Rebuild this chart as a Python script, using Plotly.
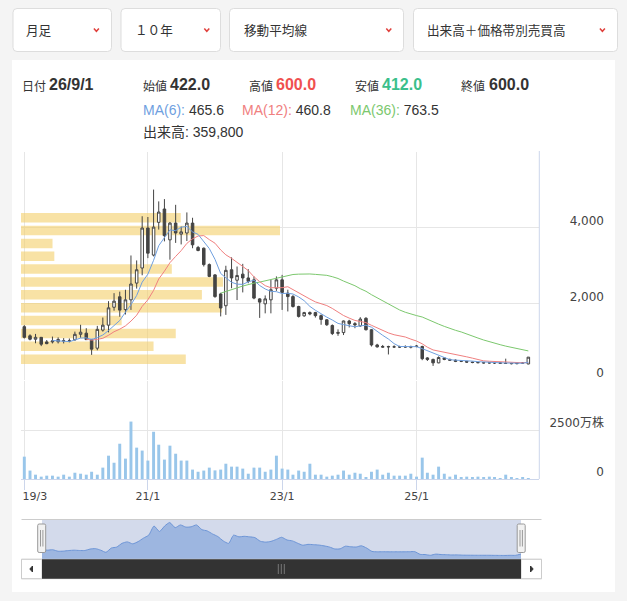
import plotly.graph_objects as go
import pandas as pd

# ---------------- data ----------------
dates = pd.date_range('2019-03-01', periods=91, freq='MS')

opens = [1400, 1160, 1070, 1120, 1000, 1000, 1005, 1025, 1020, 1055,
         1200, 1230, 1070, 835, 1310, 1440, 1910, 2185, 1850, 2105,
         2545, 2940, 3990, 3280, 4140, 4490, 3680, 4120, 3830, 3860,
         4120, 3480, 3460, 3030, 2760, 2260, 1950, 2895, 2620, 2780,
         2680, 2630, 2130, 2000, 2105, 2410, 2630, 2280, 2190, 1930,
         1685, 1770, 1770, 1690, 1580, 1430, 1250, 1245, 1550, 1480,
         1420, 1620, 1320, 920, 860, 880, 870, 865, 870, 860,
         880, 880, 580, 540, 450, 580, 540, 520, 490, 490,
         470, 460, 455, 450, 451, 450, 440, 433.6, 430, 445,
         422]
highs = [1440, 1200, 1210, 1130, 1050, 1140, 1120, 1100, 1090, 1270,
         1450, 1360, 1075, 1420, 1640, 2070, 2280, 2320, 2370, 3270,
         3140, 4300, 4280, 5000, 4690, 4750, 4150, 4600, 4030, 4400,
         4260, 3520, 3480, 3060, 2780, 2290, 3000, 3220, 2980, 3050,
         2910, 2720, 2150, 2220, 2630, 2720, 2760, 2370, 2230, 1950,
         1790, 1800, 1790, 1720, 1600, 1460, 1330, 1560, 1580, 1520,
         1650, 1650, 1340, 950, 920, 900, 910, 900, 910, 900,
         920, 900, 600, 560, 620, 600, 560, 540, 510, 500,
         480, 470, 470, 470, 460, 460, 560, 450, 460, 460,
         600]
lows = [1090, 1040, 965, 890, 940, 960, 960, 960, 990, 1030,
        1110, 1050, 660, 780, 1270, 1250, 1820, 1660, 1720, 1840,
        2400, 2750, 3200, 3245, 3950, 3640, 3160, 3600, 3560, 3650,
        3460, 3380, 2980, 2700, 2160, 1670, 1710, 2410, 2100, 2300,
        2540, 2120, 1630, 1750, 1750, 2340, 1840, 1800, 1900, 1640,
        1660, 1700, 1640, 1450, 1420, 1180, 1160, 1180, 1380, 1360,
        1400, 1300, 880, 850, 840, 670, 840, 840, 850, 830,
        860, 520, 500, 370, 440, 520, 500, 470, 470, 450,
        440, 440, 430, 430, 420, 420, 420, 410, 410, 420,
        412]
closes = [1120, 1070, 1120, 940, 955, 1025, 1065, 1030, 1030, 1200,
          1255, 1060, 810, 1330, 1440, 1895, 2070, 1835, 2105, 2520,
          2895, 3990, 3330, 4015, 4410, 3790, 4120, 3860, 3890, 4120,
          3550, 3400, 3030, 2720, 2190, 1890, 2880, 2680, 2745, 2680,
          2590, 2150, 2045, 2130, 2370, 2630, 2300, 2190, 1930, 1670,
          1770, 1735, 1690, 1590, 1450, 1220, 1230, 1550, 1480, 1450,
          1600, 1320, 920, 870, 880, 870, 870, 870, 870, 880,
          890, 560, 540, 450, 590, 540, 520, 490, 496.4, 470,
          460, 455, 450, 451, 450, 440, 433.6, 430, 445, 445,
          600]
# monthly volume, in units of 10,000 shares (万株)
volume_man = [1140, 430, 220, 120, 170, 170, 120, 220, 120, 320,
              270, 220, 370, 220, 580, 1190, 830, 1800, 1040, 2930,
              1600, 1450, 940, 2410, 1750, 990, 1700, 1290, 940, 940,
              480, 370, 430, 580, 440, 480, 780, 630, 630, 530,
              270, 580, 580, 370, 480, 1190, 530, 480, 220, 430,
              370, 780, 220, 220, 120, 170, 220, 430, 220, 320,
              270, 70, 370, 480, 220, 320, 170, 170, 170, 270,
              120, 1090, 320, 220, 630, 270, 120, 220, 70, 120,
              70, 120, 70, 120, 70, 30, 220, 70, 20, 70,
              35.98]
# volume-by-price bands (band centre price, band volume in 万株)
vbp_price = [547, 885, 1223, 1560, 1898, 2236, 2574, 2912, 3250, 3587, 3925, 4263]
vbp_volume = [4600, 3700, 4320, 2810, 5610, 5050, 5640, 4210, 930, 880, 7230, 4460]

tick_dates = ['2019-03-01', '2021-01-01', '2023-01-01', '2025-01-01']
tick_labels = ['\u2007\u2007\u200719/3', '21/1', '23/1', '25/1']

# ---------------- helpers ----------------
W, H = 627, 601
def X(p): return p / W
def Y(p): return 1 - p / H

volume = [round(v * 1e4) for v in volume_man]
cs = pd.Series(closes)
ma6 = cs.rolling(6).mean()
ma12 = cs.rolling(12).mean()
ma36 = cs.rolling(36).mean()

C_MA6, C_MA12, C_MA36 = '#6f9fdf', '#f08080', '#7cc86e'
GRID = '#e6e6e6'
AX = '#ccd6eb'
NOSLIDER = dict(visible=False)

fig = go.Figure()

# volume-by-price bars (base subplot so they sit beneath the candles)
fig.add_trace(go.Bar(x=vbp_volume, y=vbp_price, orientation='h', width=250,
                     marker=dict(color='rgba(243,206,105,0.6)', line=dict(width=0)),
                     xaxis='x', yaxis='y', hoverinfo='skip'))
# candles
fig.add_trace(go.Candlestick(x=dates, open=opens, high=highs, low=lows, close=closes,
                             xaxis='x5', yaxis='y', whiskerwidth=0,
                             increasing=dict(line=dict(color='#444444', width=1), fillcolor='#ffffff'),
                             decreasing=dict(line=dict(color='#444444', width=1), fillcolor='#444444'),
                             hoverinfo='skip'))
for s, c in [(ma36, C_MA36), (ma12, C_MA12), (ma6, C_MA6)]:
    fig.add_trace(go.Scatter(x=dates, y=s, mode='lines', line=dict(color=c, width=1),
                             xaxis='x5', yaxis='y', hoverinfo='skip'))
# volume
fig.add_trace(go.Bar(x=dates, y=volume, width=16 * 86400000,
                     marker=dict(color='#99c6ea', line=dict(width=0)),
                     xaxis='x2', yaxis='y2', hoverinfo='skip'))
# navigator
fig.add_trace(go.Scatter(x=dates, y=closes, mode='lines', fill='tozeroy',
                         fillcolor='#9db6e0', line=dict(color='#6d95d6', width=1, shape='spline', smoothing=0.6),
                         xaxis='x4', yaxis='y4', hoverinfo='skip'))

xr = ['2019-02-11', '2026-10-29']
tickfont_y = dict(family='DejaVu Sans', size=12, color='#444444')

fig.update_layout(
    width=W, height=H, margin=dict(l=0, r=0, t=0, b=0, pad=0, autoexpand=False),
    paper_bgcolor='#f4f4f4', plot_bgcolor='rgba(0,0,0,0)',
    showlegend=False, hovermode=False, barmode='overlay',
    xaxis=dict(domain=[X(21), X(539)], range=[0, max(vbp_volume) * 2], visible=False,
               anchor='y', fixedrange=True, automargin=False, rangeslider=NOSLIDER),
    xaxis5=dict(overlaying='x', type='date', range=xr, anchor='y', tickvals=tick_dates,
                showticklabels=False, showgrid=True, gridcolor=GRID, gridwidth=1,
                zeroline=False, showline=False, ticks='', automargin=False, rangeslider=NOSLIDER),
    yaxis=dict(domain=[Y(380), Y(151.5)], range=[0, 6000], tickvals=[0, 2000, 4000, 6000],
               ticktext=['0', '2,000', '4,000', ''], gridcolor=GRID, zeroline=False,
               showline=False, ticks='', anchor='free', position=X(604), side='left',
               ticklabelshift=-7, tickfont=tickfont_y, automargin=False),
    xaxis2=dict(domain=[X(21), X(539)], type='date', range=xr, anchor='y2',
                tickvals=tick_dates, ticktext=tick_labels, showgrid=True, gridcolor=GRID,
                showline=True, linecolor=AX, linewidth=1, ticks='outside', ticklen=10,
                tickcolor=AX, tickwidth=1, zeroline=False, ticklabelstandoff=-3,
                tickfont=dict(family='DejaVu Sans', size=11, color='#444444'),
                automargin=False, rangeslider=NOSLIDER),
    yaxis2=dict(domain=[Y(479), Y(381)], range=[0, 5e7], tickvals=[0, 2.5e7, 5e7],
                ticktext=['0', '2500万株', ''], gridcolor=GRID, zeroline=False,
                showline=False, ticks='', anchor='free', position=X(604), side='left',
                ticklabelshift=-7, automargin=False,
                tickfont=dict(family='DejaVu Sans, Noto Sans CJK JP', size=12, color='#444444')),
    xaxis4=dict(domain=[X(42), X(521)], type='date',
                range=[str(dates[0].date()), str(dates[-1].date())], anchor='y4', visible=False,
                automargin=False, rangeslider=NOSLIDER),
    yaxis4=dict(domain=[Y(559), Y(519.5)], range=[0, 4780], anchor='x4', visible=False,
                automargin=False),
)

# ---------------- decorations ----------------
shapes = []
def rect(x0, y0, x1, y1, fill, line=None, lw=1, layer='below'):
    shapes.append(dict(type='rect', xref='paper', yref='paper', x0=X(x0), x1=X(x1),
                       y0=Y(y1), y1=Y(y0), fillcolor=fill, layer=layer,
                       line=dict(color=line or fill, width=lw if line else 0)))
def seg(x0, y0, x1, y1, color, lw=1, layer='above'):
    shapes.append(dict(type='line', xref='paper', yref='paper', x0=X(x0), x1=X(x1),
                       y0=Y(y0), y1=Y(y1), layer=layer, line=dict(color=color, width=lw)))
def rrect(x0, y0, x1, y1, r, fill, line, lw=1, layer='below'):
    p = (f"M {X(x0+r)},{Y(y0)} L {X(x1-r)},{Y(y0)} Q {X(x1)},{Y(y0)} {X(x1)},{Y(y0+r)} "
         f"L {X(x1)},{Y(y1-r)} Q {X(x1)},{Y(y1)} {X(x1-r)},{Y(y1)} L {X(x0+r)},{Y(y1)} "
         f"Q {X(x0)},{Y(y1)} {X(x0)},{Y(y1-r)} L {X(x0)},{Y(y0+r)} Q {X(x0)},{Y(y0)} {X(x0+r)},{Y(y0)} Z")
    shapes.append(dict(type='path', xref='paper', yref='paper', path=p, fillcolor=fill,
                       layer=layer, line=dict(color=line, width=lw)))
def poly(pts, color, fill=None, lw=1.5, layer='above'):
    p = 'M ' + ' L '.join(f"{X(a)},{Y(b)}" for a, b in pts)
    if fill:
        p += ' Z'
    shapes.append(dict(type='path', xref='paper', yref='paper', path=p, layer=layer,
                       fillcolor=fill if fill else 'rgba(0,0,0,0)', line=dict(color=color, width=lw)))

# white chart panel
rect(12, 60, 615, 592, '#ffffff')
# dropdown boxes
boxes = [(13, 111.5), (121, 220.5), (229.5, 403.5), (413.5, 617.5)]
chev = [96.4, 206.8, 388.8, 602.4]
for (a, b), c in zip(boxes, chev):
    rrect(a, 8.5, b, 51.5, 4, '#ffffff', '#dddddd')
    poly([(c - 2.5, 28.5), (c, 31.3), (c + 2.5, 28.5)], '#e0403c', lw=1.5)
# plot borders
seg(539.3, 151, 539.3, 479, AX)
# navigator
rect(42, 519.5, 521, 559, '#d3daeb')
seg(21.5, 519.5, 541.5, 519.5, '#cccccc')
for hc in [41.7, 521.2]:
    rrect(hc - 4, 524, hc + 4, 552.5, 1.5, '#f2f2f2', '#999999', layer='above')
    seg(hc - 1.2, 530, hc - 1.2, 546.5, '#999999')
    seg(hc + 1.2, 530, hc + 1.2, 546.5, '#999999')
# scrollbar
rect(21.5, 559.3, 541.5, 578.7, '#f2f2f2', '#cccccc', layer='above')
rect(21.5, 559.3, 42, 578.7, '#ffffff', '#cccccc', layer='above')
rect(521, 559.3, 541.5, 578.7, '#ffffff', '#cccccc', layer='above')
rect(42, 559.3, 521, 578.7, '#333333', layer='above')
for rx in [278.3, 281.3, 284.3]:
    seg(rx, 564, rx, 574, '#777777')
poly([(32.5, 566), (32.5, 572), (29.8, 569)], '#333333', fill='#333333', lw=1)
poly([(530.5, 566), (530.5, 572), (533.2, 569)], '#333333', fill='#333333', lw=1)
fig.update_layout(shapes=shapes)

# ---------------- text ----------------
ann = []
def txt(x, y, s, size=12, color='#333333', family='Liberation Sans, Noto Sans CJK JP', anchor='left'):
    ann.append(dict(x=X(x), y=Y(y), xref='paper', yref='paper', text=s, showarrow=False,
                    xanchor=anchor, yanchor='middle', align='left',
                    font=dict(size=size, color=color, family=family)))

cjk = 'Noto Sans CJK JP'
txt(24, 30, '月足', 12.6, family=cjk)
txt(132.5, 30, '１０年', 12.6, family=cjk)
txt(241.8, 30, '移動平均線', 12.6, family=cjk)
txt(424.5, 30, '出来高＋価格帯別売買高', 12.6, family=cjk)

last = dates[-1]
date_s = f"{last.strftime('%y')}/{last.month}/{last.day}"
txt(20, 85.5, '日付', 12, family=cjk)
txt(47, 85, f'<b>{date_s}</b>', 16)
fields = [(140.6, 168, '始値', opens[-1], '#333333'),
          (247, 274, '高値', highs[-1], '#f0504f'),
          (353, 380, '安値', lows[-1], '#3bbf8b'),
          (459, 487, '終値', closes[-1], '#333333')]
for lx, vx, lab, val, col in fields:
    txt(lx, 86, lab, 12, family=cjk)
    txt(vx, 85, f'<b>{val:.1f}</b>', 16, color=col)
mas = [(140.6, 'MA(6)', ma6.iloc[-1], C_MA6), (240, 'MA(12)', ma12.iloc[-1], C_MA12),
       (348, 'MA(36)', ma36.iloc[-1], C_MA36)]
for x0, lab, val, col in mas:
    txt(x0, 109.5, f"<span style='color:{col}'>{lab}:</span> {val:.1f}", 14)
txt(140.6, 132, f"出来高: {volume[-1]:,}", 14)
fig.update_layout(annotations=ann)

ps = """
var gd=document.getElementById('{plot_id}');
document.body.style.margin='0';
Plotly.relayout(gd, {width: 627, height: 601});
"""
fig.write_html('out.html', config={'displayModeBar': False}, post_script=ps)
